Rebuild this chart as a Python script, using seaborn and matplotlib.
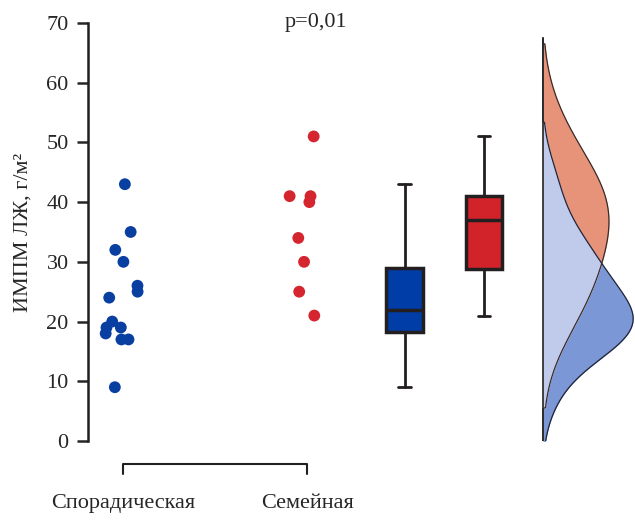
import numpy as np
import pandas as pd
import seaborn as sns
from matplotlib import pyplot as plt

# values (г/м²)
sporadic = [43, 35, 32, 30, 26, 25, 24, 20, 19, 19, 18, 17, 17, 9]
familial = [51, 41, 41, 40, 34, 30, 25, 21]
groups = ['Спорадическая', 'Семейная']
p_text = 'p=0,01'
y_label = 'ИМПМ ЛЖ, г/м²'
y_ticks = [0, 10, 20, 30, 40, 50, 60, 70]

dot_colors = ['#0a3fa2', '#d5252e']
box_colors = ['#003da6', '#d2232a']
kde_colors = ['#7c97d6', '#e6937a']
overlap_color = '#c0caeb'


def gauss_kde(values, grid, bw_factor):
    """Plain gaussian KDE, Scott's rule times a factor."""
    v = np.asarray(values, dtype=float)
    bw = v.std(ddof=1) * len(v) ** (-1 / 5) * bw_factor
    z = (grid[:, None] - v[None, :]) / bw
    dens = np.exp(-0.5 * z ** 2).sum(axis=1) / (len(v) * bw * np.sqrt(2 * np.pi))
    return dens, bw


sns.set_style('white')
plt.rcParams['font.family'] = ['Liberation Serif', 'DejaVu Serif']

df = pd.DataFrame({
    'group': [groups[0]] * len(sporadic) + [groups[1]] * len(familial),
    'value': sporadic + familial,
})

fig = plt.figure(figsize=(6.35, 5.2), dpi=100)
ax = fig.add_axes([0.1386, 0.152, 0.8614, 0.8038])

# jittered dots
np.random.seed(3)
sns.stripplot(data=df, x='group', y='value', hue='group', palette=dot_colors,
              jitter=0.1, size=8.5, linewidth=0, legend=False, ax=ax)

# boxplots next to the dots
box_pos = [1.53, 1.96]
bp = ax.boxplot([sporadic, familial], positions=box_pos, widths=0.2,
                patch_artist=True, showfliers=False, manage_ticks=False,
                medianprops=dict(color='#231f20', linewidth=2.5),
                boxprops=dict(edgecolor='#231f20', linewidth=2.5),
                whiskerprops=dict(color='#231f20', linewidth=2),
                capprops=dict(color='#231f20', linewidth=2), capwidths=0.07)
for patch, c in zip(bp['boxes'], box_colors):
    patch.set_facecolor(c)

# half-violin densities, overlap drawn in a light tint
base = 2.28
scale = 0.49
grid = np.linspace(-1.5, 67.5, 400)
d_blue, bw_b = gauss_kde(sporadic, grid, 1.0)
d_red, bw_r = gauss_kde(familial, grid, 1.2)
d_blue[(grid < min(sporadic) - 2 * bw_b) | (grid > max(sporadic) + 2 * bw_b)] = 0
d_red[(grid < min(familial) - 2 * bw_r) | (grid > max(familial) + 2 * bw_r)] = 0
k = scale / d_blue.max()
w_blue = d_blue * k
w_red = d_red * k
w_min = np.minimum(w_blue, w_red)
ax.fill_betweenx(grid, base + w_min, base + w_red, color=kde_colors[1], lw=0)
ax.fill_betweenx(grid, base + w_min, base + w_blue, color=kde_colors[0], lw=0)
ax.fill_betweenx(grid, base, base + w_min, color=overlap_color, lw=0)
ax.plot(base + w_red, grid, color='#3a2a28', lw=0.9)
ax.plot(base + w_blue, grid, color='#1f2335', lw=0.9)
ax.plot([base, base], [grid.min(), grid.max()], color='#222222', lw=1.2)

# significance bracket under the axis
ax.plot([0, 0, 1, 1], [-5.6, -3.9, -3.9, -5.6], color='#231f20', lw=1.5,
        clip_on=False)
ax.text(1.05, 70, p_text, ha='center', va='center', fontsize=16)

ax.set_xlim(-0.19, 2.78)
ax.set_ylim(0, 70)
ax.set_yticks(y_ticks)
ax.set_xlabel('')
ax.set_ylabel(y_label, fontsize=16, labelpad=10)
ax.tick_params(axis='y', left=True, length=8, width=1.8, labelsize=16, pad=6)
ax.tick_params(axis='x', length=0, labelsize=16, pad=38)
for side in ['top', 'right', 'bottom']:
    ax.spines[side].set_visible(False)
ax.spines['left'].set_linewidth(1.8)
ax.spines['left'].set_color('#231f20')

plt.savefig('out.png', dpi=100)
